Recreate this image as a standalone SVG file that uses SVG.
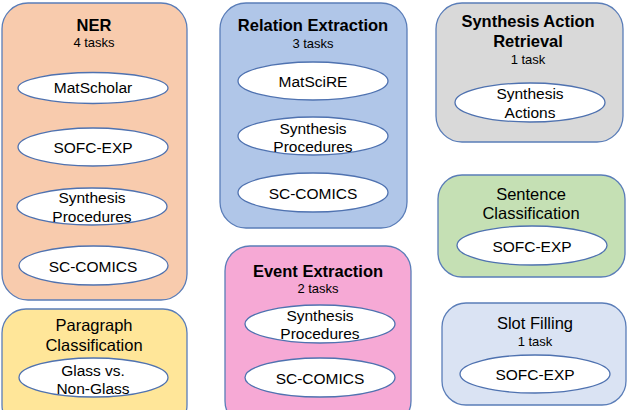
<svg xmlns="http://www.w3.org/2000/svg" width="627" height="410" viewBox="0 0 627 410">
<style>
.box{stroke:#5A7DB8;stroke-width:1.3}
.ell{fill:#fff;stroke:#4F72B0;stroke-width:1.3}
.t{font-family:"Liberation Sans",Arial,sans-serif;fill:#000;text-anchor:middle;dominant-baseline:central}
.h{font-size:16.5px;font-weight:bold}
.hn{font-size:16.5px}
.s{font-size:13px}
.e{font-size:15.5px}
</style>
<g id="ner">
<rect class="box" x="2" y="3" width="185" height="297" rx="26" fill="#F8CBAD"/>
<text class="t h" x="94" y="25">NER</text>
<text class="t s" x="94" y="42">4 tasks</text>
<ellipse class="ell" cx="93" cy="88" rx="75" ry="15.5"/>
<text class="t e" x="93" y="87">MatScholar</text>
<ellipse class="ell" cx="93" cy="147" rx="75" ry="19"/>
<text class="t e" x="93" y="147">SOFC-EXP</text>
<ellipse class="ell" cx="92" cy="206.5" rx="75" ry="18.5"/>
<text class="t e" x="92" y="197">Synthesis</text>
<text class="t e" x="92" y="216">Procedures</text>
<ellipse class="ell" cx="93.5" cy="265.5" rx="74.5" ry="19.5"/>
<text class="t e" x="93" y="266">SC-COMICS</text>
</g>
<g id="paragraph">
<rect class="box" x="2" y="309" width="185" height="120" rx="24" fill="#FFE699"/>
<text class="t hn" x="94" y="325">Paragraph</text>
<text class="t hn" x="94" y="345">Classification</text>
<ellipse class="ell" cx="93.5" cy="377.5" rx="74.5" ry="19.5"/>
<text class="t e" x="93" y="370">Glass vs.</text>
<text class="t e" x="93" y="388">Non-Glass</text>
</g>
<g id="relation">
<rect class="box" x="220" y="3" width="187" height="225" rx="26" fill="#B0C6E8"/>
<text class="t h" x="313" y="25">Relation Extraction</text>
<text class="t s" x="313" y="43">3 tasks</text>
<ellipse class="ell" cx="313" cy="81" rx="75" ry="19"/>
<text class="t e" x="313" y="81">MatSciRE</text>
<ellipse class="ell" cx="313" cy="136" rx="75" ry="19"/>
<text class="t e" x="313" y="128">Synthesis</text>
<text class="t e" x="313" y="146">Procedures</text>
<ellipse class="ell" cx="313" cy="192.5" rx="75" ry="19.5"/>
<text class="t e" x="313" y="193">SC-COMICS</text>
</g>
<g id="event">
<rect class="box" x="225" y="246" width="186" height="180" rx="25" fill="#F6A9D5"/>
<text class="t h" x="318" y="271">Event Extraction</text>
<text class="t s" x="318" y="288">2 tasks</text>
<ellipse class="ell" cx="320" cy="324" rx="75" ry="19"/>
<text class="t e" x="320" y="315">Synthesis</text>
<text class="t e" x="320" y="333">Procedures</text>
<ellipse class="ell" cx="320" cy="377.5" rx="75" ry="19.5"/>
<text class="t e" x="320" y="378">SC-COMICS</text>
</g>
<g id="synthesis-action">
<rect class="box" x="436" y="3" width="187" height="139" rx="26" fill="#D9D9D9"/>
<text class="t h" x="528" y="21">Synthesis Action</text>
<text class="t h" x="528" y="41">Retrieval</text>
<text class="t s" x="528" y="59">1 task</text>
<ellipse class="ell" cx="530" cy="102.5" rx="75" ry="19.5"/>
<text class="t e" x="530" y="93">Synthesis</text>
<text class="t e" x="530" y="112">Actions</text>
</g>
<g id="sentence">
<rect class="box" x="438" y="175" width="187" height="102" rx="24" fill="#C5E0B4"/>
<text class="t hn" x="531" y="194">Sentence</text>
<text class="t hn" x="531" y="213">Classification</text>
<ellipse class="ell" cx="532" cy="245.5" rx="75" ry="19.5"/>
<text class="t e" x="532" y="246">SOFC-EXP</text>
</g>
<g id="slot">
<rect class="box" x="442" y="303" width="184" height="102" rx="24" fill="#DAE3F3"/>
<text class="t hn" x="535" y="323">Slot Filling</text>
<text class="t s" x="535" y="341">1 task</text>
<ellipse class="ell" cx="535" cy="374" rx="75" ry="19"/>
<text class="t e" x="535" y="374">SOFC-EXP</text>
</g>
<g id="connectors"></g>
</svg>
